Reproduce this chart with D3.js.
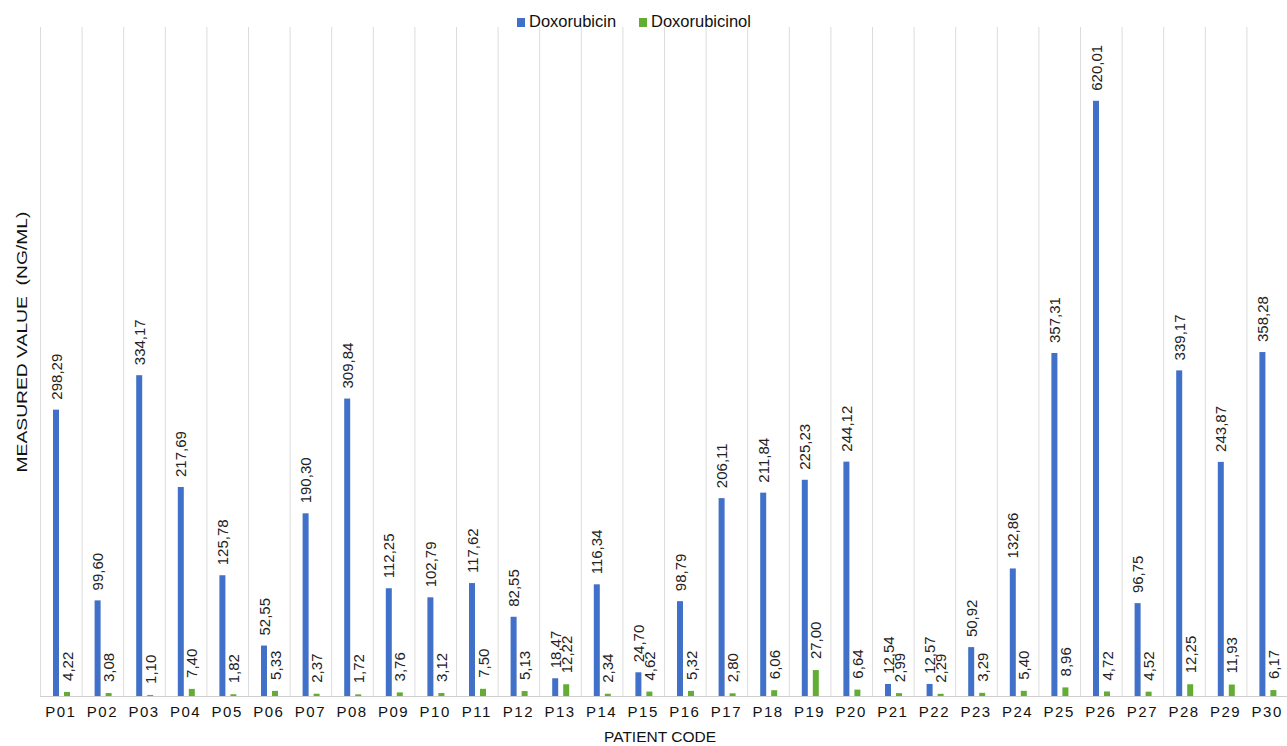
<!DOCTYPE html>
<html>
<head>
<meta charset="UTF-8">
<style>
  html, body { margin: 0; padding: 0; background: #fff; }
  svg { display: block; font-family: "Liberation Sans", Arial, sans-serif; }
</style>
</head>
<body>
<svg id="chart" width="1287" height="746"></svg>
<script src="https://cdn.jsdelivr.net/npm/d3@7"></script>
<script>
const patients = ["P01","P02","P03","P04","P05","P06","P07","P08","P09","P10",
  "P11","P12","P13","P14","P15","P16","P17","P18","P19","P20",
  "P21","P22","P23","P24","P25","P26","P27","P28","P29","P30"];
const doxorubicin = [298.29, 99.60, 334.17, 217.69, 125.78, 52.55, 190.30, 309.84, 112.25, 102.79,
  117.62, 82.55, 18.47, 116.34, 24.70, 98.79, 206.11, 211.84, 225.23, 244.12,
  12.54, 12.57, 50.92, 132.86, 357.31, 620.01, 96.75, 339.17, 243.87, 358.28];
const doxorubicinol = [4.22, 3.08, 1.10, 7.40, 1.82, 5.33, 2.37, 1.72, 3.76, 3.12,
  7.50, 5.13, 12.22, 2.34, 4.62, 5.32, 2.80, 6.06, 27.00, 6.64,
  2.99, 2.29, 3.29, 5.40, 8.96, 4.72, 4.52, 12.25, 11.93, 6.17];
const seriesNames = ["Doxorubicin", "Doxorubicinol"];
const colors = ["#4170c8", "#63ad35"];

const svg = d3.select("#chart");
const plotLeft = 40, plotRight = 1288, plotTop = 24, plotBottom = 696;

const x = d3.scaleBand().domain(patients).range([plotLeft, plotRight]);
const y = d3.scaleLinear().domain([0, 700]).range([plotBottom, plotTop]);
const fmt = v => d3.format(".2f")(v).replace(".", ",");

// vertical gridlines at category boundaries
svg.append("g").selectAll("line")
  .data(patients)
  .join("line")
  .attr("x1", d => x(d) + 0.5).attr("x2", d => x(d) + 0.5)
  .attr("y1", 27).attr("y2", plotBottom)
  .attr("stroke", "#dcdcdc").attr("stroke-width", 1);

const bw = 6;
const series = [doxorubicin, doxorubicinol];
const offsets = [13, 24];

series.forEach((vals, si) => {
  const g = svg.append("g");
  g.selectAll("rect")
    .data(vals)
    .join("rect")
    .attr("x", (d, i) => x(patients[i]) + offsets[si])
    .attr("y", d => y(d))
    .attr("width", bw)
    .attr("height", d => plotBottom - y(d))
    .attr("fill", colors[si]);
  g.selectAll("text")
    .data(vals)
    .join("text")
    .attr("transform", (d, i) => `translate(${x(patients[i]) + offsets[si] + bw / 2 + 5.5},${y(d) - (si ? 11 : 10)}) rotate(-90)`)
    .attr("font-size", 15)
    .attr("fill", "#222")
    .attr("text-anchor", "start")
    .text(d => fmt(d));
});

// baseline
svg.append("line")
  .attr("x1", plotLeft).attr("x2", plotRight)
  .attr("y1", plotBottom + 0.5).attr("y2", plotBottom + 0.5)
  .attr("stroke", "#cfcfcf");

// x axis labels
const xAxis = svg.append("g")
  .attr("transform", `translate(0,${plotBottom})`)
  .call(d3.axisBottom(x).tickSize(0).tickPadding(10));
xAxis.select(".domain").remove();
xAxis.selectAll("text")
  .attr("font-size", 15)
  .attr("letter-spacing", 1.5)
  .attr("fill", "#111")
  .attr("font-family", "Liberation Sans, Arial, sans-serif");

svg.append("text")
  .attr("x", 660).attr("y", 742)
  .attr("text-anchor", "middle")
  .attr("font-size", 15.5)
  .attr("fill", "#111")
  .text("PATIENT CODE");

svg.append("text")
  .attr("transform", `translate(27,342) rotate(-90)`)
  .attr("text-anchor", "middle")
  .attr("font-size", 15.5)
  .attr("fill", "#111")
  .attr("textLength", 261)
  .attr("lengthAdjust", "spacingAndGlyphs")
  .style("white-space", "pre")
  .text("MEASURED VALUE  (NG/ML)");

// legend
const legend = svg.append("g");
const lx = [517, 639];
seriesNames.forEach((n, i) => {
  legend.append("rect")
    .attr("x", lx[i]).attr("y", 18)
    .attr("width", 8).attr("height", 9)
    .attr("fill", colors[i]);
  legend.append("text")
    .attr("x", lx[i] + 12).attr("y", 27)
    .attr("font-size", 16.5)
    .attr("fill", "#111")
    .text(n);
});
</script>
</body>
</html>
